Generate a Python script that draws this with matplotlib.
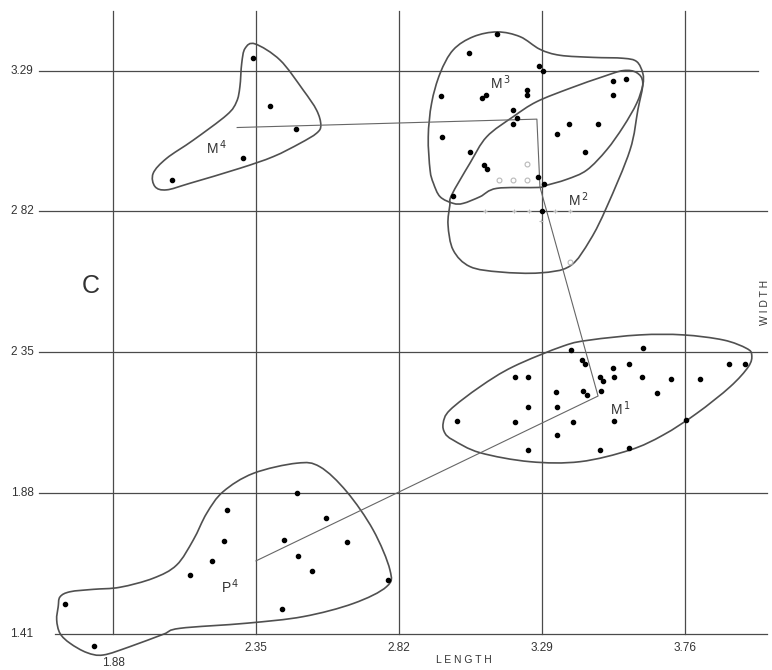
import numpy as np
import matplotlib
matplotlib.use("Agg")
import matplotlib.pyplot as plt
from matplotlib.path import Path
from matplotlib.patches import PathPatch

plt.rcParams['font.family'] = ['Liberation Sans', 'DejaVu Sans']

# grid values (length / width)
grid_x = [1.88, 2.35, 2.82, 3.29, 3.76]
grid_y = [1.41, 1.88, 2.35, 2.82, 3.29]
xtick_labels = ['1.88', '2.35', '2.82', '3.29', '3.76']
ytick_labels = ['1.41', '1.88', '2 35', '2 82', '3.29']

# specimens, length / width
m1_len = [3.385, 3.621, 3.422, 3.431, 3.524, 3.575, 3.903, 3.956, 3.202, 3.245, 3.479,
          3.490, 3.527, 3.619, 3.713, 3.810, 3.336, 3.426, 3.437, 3.483, 3.669, 3.244,
          3.339, 3.009, 3.202, 3.391, 3.527, 3.763, 3.338, 3.244, 3.481, 3.576]
m1_wid = [2.357, 2.364, 2.325, 2.310, 2.298, 2.312, 2.310, 2.310, 2.267, 2.268, 2.268,
          2.253, 2.269, 2.267, 2.262, 2.262, 2.218, 2.220, 2.206, 2.221, 2.215, 2.167,
          2.166, 2.121, 2.117, 2.118, 2.121, 2.123, 2.073, 2.025, 2.024, 2.030]

m2_len = [3.523, 3.567, 3.523, 3.378, 3.474, 3.340, 3.430, 3.29]
m2_wid = [3.256, 3.261, 3.209, 3.112, 3.113, 3.079, 3.019, 2.82]

m3_len = [3.143, 3.049, 3.281, 3.292, 2.957, 3.093, 3.106, 3.240, 3.241, 3.194,
          3.209, 3.194, 2.960, 3.053, 3.100, 3.108, 3.278, 3.297, 2.996]
m3_wid = [3.412, 3.350, 3.305, 3.290, 3.206, 3.198, 3.210, 3.225, 3.208, 3.159,
          3.133, 3.112, 3.068, 3.017, 2.975, 2.962, 2.936, 2.911, 2.873]

m4_len = [2.341, 2.397, 2.482, 2.307, 2.074]
m4_wid = [3.331, 3.173, 3.096, 2.999, 2.924]

p4_len = [2.485, 2.255, 2.581, 2.245, 2.443, 2.650, 2.204, 2.488, 2.133, 2.533,
          2.783, 2.436, 1.723, 1.818]
p4_wid = [1.881, 1.825, 1.796, 1.720, 1.725, 1.718, 1.653, 1.671, 1.608, 1.621,
          1.590, 1.494, 1.511, 1.369]

# faint open symbols near the M2 / M3 overlap
faint_len = [3.240, 3.148, 3.195, 3.241, 3.382]
faint_wid = [2.978, 2.924, 2.924, 2.924, 2.650]
tick_len = [3.103, 3.199, 3.246, 3.333, 3.381, 3.285]
tick_wid = [2.82, 2.82, 2.82, 2.82, 2.82, 2.788]

# line joining the group means: M4 -> M3 -> M2 -> M1 -> P4
path_len = [2.288, 3.273, 3.283, 3.474, 2.350]
path_wid = [3.100, 3.128, 2.902, 2.204, 1.654]

# hand drawn outlines around each group
m1_out_x = [2.965, 2.987, 3.086, 3.195, 3.360, 3.448, 3.612, 3.754, 3.886, 3.962, 3.979,
            3.968, 3.908, 3.798, 3.688, 3.579, 3.415, 3.250, 3.086, 2.998, 2.971]
m1_out_y = [2.113, 2.157, 2.235, 2.302, 2.371, 2.391, 2.408, 2.408, 2.391, 2.363, 2.341,
            2.302, 2.235, 2.146, 2.074, 2.024, 1.985, 1.985, 2.015, 2.057, 2.080]

m2_out_x = [2.993, 3.053, 3.108, 3.195, 3.272, 3.382, 3.491, 3.557, 3.601, 3.621, 3.605,
            3.579, 3.503, 3.448, 3.382, 3.283, 3.152, 3.053, 2.998, 2.981, 2.987]
m2_out_y = [2.875, 2.981, 3.069, 3.136, 3.186, 3.231, 3.270, 3.290, 3.283, 3.248, 3.160,
            3.025, 2.836, 2.725, 2.638, 2.615, 2.618, 2.636, 2.691, 2.775, 2.841]

m3_out_x = [3.143, 3.218, 3.283, 3.349, 3.458, 3.557, 3.601, 3.621, 3.621, 3.601, 3.557,
            3.502, 3.437, 3.371, 3.300, 3.278, 3.141, 3.086, 3.031, 2.998, 2.955, 2.933,
            2.922, 2.916, 2.927, 2.955, 2.998, 3.064]
m3_out_y = [3.419, 3.403, 3.361, 3.341, 3.334, 3.331, 3.320, 3.281, 3.242, 3.181, 3.103,
            3.025, 2.958, 2.927, 2.906, 2.900, 2.897, 2.869, 2.847, 2.847, 2.869, 2.914,
            2.958, 3.069, 3.181, 3.281, 3.359, 3.403]

m4_out_x = [2.347, 2.429, 2.505, 2.549, 2.563, 2.549, 2.494, 2.407, 2.297, 2.133, 2.056,
            2.018, 2.012, 2.056, 2.144, 2.254, 2.286, 2.297, 2.303, 2.314]
m4_out_y = [3.379, 3.325, 3.225, 3.158, 3.108, 3.081, 3.047, 3.003, 2.964, 2.914, 2.892,
            2.903, 2.947, 2.997, 3.058, 3.142, 3.186, 3.236, 3.314, 3.364]

p4_out_x = [1.700, 1.706, 1.739, 1.815, 1.903, 2.012, 2.089, 2.144, 2.188, 2.242, 2.341,
            2.484, 2.560, 2.648, 2.735, 2.790, 2.779, 2.670, 2.505, 2.319, 2.100, 2.045,
            1.936, 1.848, 1.794, 1.739, 1.706, 1.695]
p4_out_y = [1.501, 1.534, 1.551, 1.559, 1.566, 1.596, 1.640, 1.724, 1.813, 1.885, 1.946,
            1.980, 1.968, 1.885, 1.757, 1.624, 1.568, 1.512, 1.468, 1.446, 1.429, 1.409,
            1.368, 1.340, 1.348, 1.379, 1.412, 1.457]

group_labels = ['M', 'M', 'M', 'M', 'P']
group_sups = ['1', '2', '3', '4', '4']
label_len = [3.548, 3.409, 3.152, 2.221, 2.265]
label_wid = [2.163, 2.858, 3.248, 3.034, 1.568]


def outline(xs, ys):
    # closed smooth curve through the outline vertices (catmull-rom as bezier)
    pts = np.column_stack([xs, ys])
    n = len(pts)
    verts = [pts[0]]
    codes = [Path.MOVETO]
    for i in range(n):
        p0, p1, p2, p3 = pts[i - 1], pts[i], pts[(i + 1) % n], pts[(i + 2) % n]
        verts += [p1 + (p2 - p0) / 6, p2 - (p3 - p1) / 6, p2]
        codes += [Path.CURVE4] * 3
    return Path(verts, codes)


fig = plt.figure(figsize=(7.72, 6.70), dpi=100)
ax = fig.add_axes([0, 0, 1, 1])
ax.set_xlim(1.5087, 4.0456)
ax.set_ylim(1.2899, 3.5255)
ax.axis('off')

gc = '#4a4a4a'
tc = '#333333'
# grid
for gx in grid_x:
    ax.plot([gx, gx], [1.41, 3.49], color=gc, lw=0.9)
for gy in grid_y:
    x0 = 1.69 if gy == 1.41 else 1.636
    x1 = 4.0 if gy == 3.29 else 4.03
    ax.plot([x0, x1], [gy, gy], color=gc, lw=0.9)

for gx, t in zip(grid_x, xtick_labels):
    ty = 1.313 if t == '1.88' else 1.363
    ax.text(gx, ty, t, ha='center', va='center', fontsize=8.5, color=tc)
for gy, t in zip(grid_y, ytick_labels):
    ax.text(1.619, gy, t, ha='right', va='center', fontsize=8.5, color=tc)

ax.text(3.033, 1.323, 'L E N G T H', ha='center', va='center', fontsize=7.5, color=tc)
ax.text(4.022, 2.518, 'W I D T H', ha='center', va='center', rotation=90,
        fontsize=7.5, color=tc)
ax.text(1.807, 2.571, 'C', ha='center', va='center', fontsize=18, color=tc)

# outlines
for ox, oy in [(m1_out_x, m1_out_y), (m2_out_x, m2_out_y), (m3_out_x, m3_out_y),
               (m4_out_x, m4_out_y), (p4_out_x, p4_out_y)]:
    ax.add_patch(PathPatch(outline(ox, oy), facecolor='none', edgecolor='#505050', lw=1.2))

# mean connecting line
ax.plot(path_len, path_wid, color='#666666', lw=0.8)

# faint marks
ax.plot(faint_len, faint_wid, 'o', mfc='none', mec='#b8b8b8', ms=3.5, mew=0.8)
ax.plot(tick_len, tick_wid, '+', color='#bbbbbb', ms=3, mew=0.8)

# specimens
for xs, ys in [(m1_len, m1_wid), (m2_len, m2_wid), (m3_len, m3_wid),
               (m4_len, m4_wid), (p4_len, p4_wid)]:
    ax.plot(xs, ys, 'o', color='black', ms=3.0)

for lab, sup, lx, ly in zip(group_labels, group_sups, label_len, label_wid):
    ax.text(lx, ly, lab + r'$^{\,' + sup + '}$', ha='center', va='center',
            fontsize=10, color=tc)

fig.savefig('out.png', dpi=100, facecolor='white')
